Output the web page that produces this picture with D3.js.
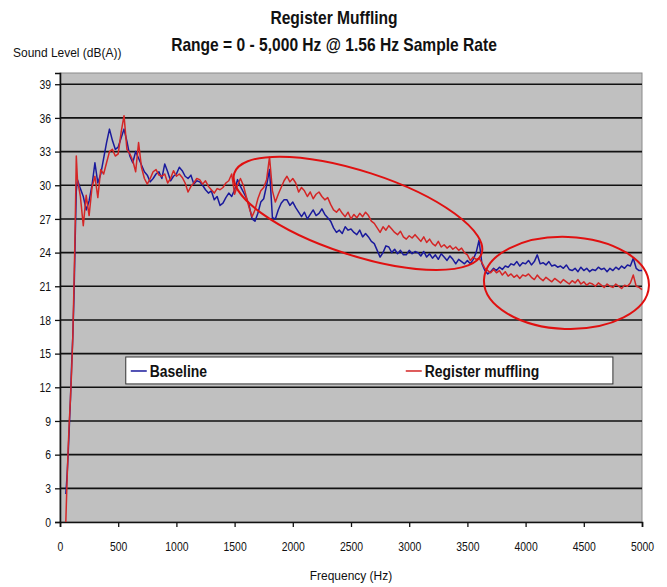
<!DOCTYPE html>
<html>
<head>
<meta charset="utf-8">
<script src="https://cdn.jsdelivr.net/npm/d3@7"></script>
<style>
  body { margin: 0; background: #fff; overflow: hidden; }
  text { font-family: "Liberation Sans", Arial, sans-serif; fill: #111; }
</style>
</head>
<body>
<script>
// sample frequencies (Hz): dense on the ramp, then every 25 Hz
const rampFreqs = [50, 60, 70, 80, 90, 100, 110, 120, 130, 140, 150];
const freqs = rampFreqs.concat(d3.range(175, 5001, 25));

// Sound level, dB(A)
const baseline = [
  2.5, 4, 6, 8.5, 11, 14, 16.5, 20, 25, 29.5, 30.5,
  29.7, 29.0, 27.8, 28.6, 30.0,
  32.0, 30.2, 31.0, 32.4,   33.8, 35.0, 34.0, 33.2,   33.4, 34.2, 35.0, 33.9,
  32.6, 32.0, 33.0, 32.4,   31.8, 31.2, 30.9, 30.3,   30.6, 31.0, 31.2, 30.6,
  31.9, 31.2, 30.4, 30.8,   31.0, 31.6, 31.3, 30.8,   30.6, 30.9, 30.1, 30.4,
  30.3, 30.0, 29.6, 29.3,   29.5, 28.7, 29.0, 28.2,   28.4, 28.9, 29.3, 29.0,
  29.6, 30.5, 29.9, 29.4,   28.9, 28.2, 27.0, 26.8,   27.5, 28.5, 28.8, 30.0,
  31.4, 27.1, 27.0, 27.8,   28.4, 28.7, 28.7, 28.2,   28.5, 28.0, 27.6, 27.2,
  27.6, 27.0, 27.4, 27.8,   27.3, 27.5, 27.9, 27.4,   27.1, 26.8, 26.2, 25.8,
  26.0, 25.7, 26.3, 26.0,   26.1, 25.8, 25.6, 26.0,   25.4, 25.7, 25.4, 25.0,
  24.8, 24.2, 23.6, 24.0,   24.6, 24.5, 24.0, 24.3,   23.9, 24.2, 23.8, 23.8,
  24.2, 23.9, 24.1, 24.0,   23.7, 24.1, 23.6, 23.9,   23.5, 23.8, 23.4, 23.9,
  23.6, 23.3, 23.7, 23.4,   23.0, 23.4, 23.2, 23.0,   23.3, 23.0, 23.4, 24.0,
  25.1, 23.0, 22.4, 22.1,   22.3, 22.6, 22.4, 22.7,   22.5, 22.8, 22.7, 23.0,
  22.9, 23.2, 22.8, 23.1,   23.0, 23.3, 22.9, 23.2,   23.8, 23.0, 23.1, 22.9,
  23.2, 22.8, 22.9, 22.7,   22.8, 22.6, 22.9, 22.5,   22.4, 22.6, 22.3, 22.7,
  22.4, 22.6, 22.3, 22.5,   22.4, 22.7, 22.5, 22.6,   22.3, 22.6, 22.4, 22.7,
  22.5, 22.8, 22.6, 22.9,   22.8, 23.5, 22.6, 22.4,
  22.4
];

const muffled = [
  0, 3.5, 6.5, 9, 11, 13.5, 16.5, 21, 26, 32.6, 30.5,
  29.0, 26.4, 29.1, 27.3, 29.8,
  30.8, 28.9, 31.4, 31.0,   32.0, 33.0, 33.2, 32.6,   32.8, 34.7, 36.2, 33.2,
  32.8, 32.2, 31.2, 33.8,   31.6, 30.6, 30.1, 30.6,   31.2, 31.4, 30.9, 30.8,
  31.0, 30.2, 30.6, 31.3,   30.8, 31.0, 30.7, 30.2,   29.4, 29.9, 30.2, 30.6,
  30.5, 30.1, 30.4, 29.9,   29.6, 29.3, 29.7, 29.6,   29.8, 30.2, 30.4, 31.0,
  29.2, 30.0, 30.6, 30.0,   29.0, 28.0, 27.2, 27.8,   28.8, 29.5, 29.8, 30.5,
  32.5, 29.5, 28.5, 29.2,   29.8, 30.4, 30.8, 30.3,   30.6, 30.2, 29.4, 29.8,
  29.5, 29.0, 29.4, 28.8,   29.2, 29.4, 29.0, 28.7,   28.9, 28.3, 27.8, 27.6,
  27.9, 27.5, 27.2, 27.6,   27.0, 27.4, 27.1, 27.5,   27.2, 27.6, 27.3, 26.8,
  26.6, 26.2, 25.8, 26.3,   26.0, 26.4, 26.1, 25.8,   25.6, 25.9, 25.4, 25.2,
  25.5, 25.3, 25.6, 25.3,   25.0, 25.4, 24.9, 25.2,   24.8, 24.6, 25.0, 24.5,
  24.7, 24.4, 24.6, 24.3,   24.5, 24.2, 24.4, 24.0,   23.8, 23.3, 23.6, 23.4,
  23.5, 23.1, 22.6, 22.4,   22.2, 22.5, 22.2, 22.4,   22.0, 22.3, 21.9, 22.1,
  21.8, 22.0, 21.7, 22.0,   21.9, 22.1, 21.8, 21.6,   22.0, 21.7, 21.5, 21.8,
  21.6, 21.4, 21.7, 21.5,   21.3, 21.6, 21.4, 21.2,   21.5, 21.3, 21.6, 21.2,
  21.4, 21.1, 21.3, 21.2,   21.0, 21.3, 21.1, 20.9,   21.2, 21.0, 20.9, 21.2,
  21.0, 20.8, 21.1, 21.0,   21.3, 22.0, 21.0, 20.9,
  20.7
];

const seriesNames = ["Baseline", "Register muffling"];
const seriesColors = ["#1a1a9c", "#d42626"];

const xTicks = d3.range(0, 5001, 500);
const yTicks = d3.range(0, 40, 3);

// highlighted regions: centre (Hz, dB), half-axes (Hz, dB), tilt in degrees
const highlights = [
  {cx: 2560, cy: 27.5, rx: 1117, ry: 3.74, tilt: 18},
  {cx: 4351, cy: 21.3, rx: 709, ry: 4.1, tilt: 2}
];

const width = 667, height = 587;
const margin = {top: 73, right: 25, bottom: 65, left: 60};
const plotW = width - margin.left - margin.right;
const plotH = height - margin.top - margin.bottom;

// squeeze text horizontally, the original uses a narrow face
function narrow(sel, f) {
    sel.each(function () {
        const w = this.getComputedTextLength();
        d3.select(this)
            .attr("textLength", w * f)
            .attr("lengthAdjust", "spacingAndGlyphs");
    });
}

const svg = d3.select("body").append("svg")
    .attr("width", width)
    .attr("height", height);

const x = d3.scaleLinear().domain([0, 5000]).range([0, plotW]);
const y = d3.scaleLinear().domain([0, 40]).range([plotH, 0]);

const g = svg.append("g")
    .attr("transform", `translate(${margin.left},${margin.top})`);

// plot background
g.append("rect")
    .attr("width", plotW)
    .attr("height", plotH)
    .attr("fill", "#c0c0c0")
    .attr("stroke", "#8a8a8a")
    .attr("stroke-width", 1);

// horizontal gridlines
g.append("g")
    .selectAll("line")
    .data(yTicks.filter(d => d > 0))
    .join("line")
    .attr("x1", 0)
    .attr("x2", plotW)
    .attr("y1", d => y(d))
    .attr("y2", d => y(d))
    .attr("stroke", "#111")
    .attr("stroke-width", 1.6);

// axes
const yAxis = g.append("g")
    .call(d3.axisLeft(y).tickValues(yTicks).tickSize(5).tickPadding(4));
const xAxis = g.append("g")
    .attr("transform", `translate(0,${plotH})`)
    .call(d3.axisBottom(x).tickValues(xTicks).tickSize(5).tickPadding(15).tickFormat(d3.format("d")));

[xAxis, yAxis].forEach(ax => {
    ax.select(".domain").attr("stroke", "#111").attr("stroke-width", 1.6);
    ax.selectAll(".tick line").attr("stroke", "#111").attr("stroke-width", 1.3);
    ax.selectAll(".tick text")
        .attr("fill", "#222")
        .style("font-size", "13px")
        .style("font-family", "'Liberation Sans', Arial, sans-serif")
        .call(narrow, 0.8);
});

// the two series
const line = d3.line()
    .x((d, i) => x(freqs[i]))
    .y(d => y(d));

[baseline, muffled].forEach((vals, k) => {
    g.append("path")
        .datum(vals.slice(0, freqs.length))
        .attr("fill", "none")
        .attr("stroke", seriesColors[k])
        .attr("stroke-width", 1.5)
        .attr("stroke-linejoin", "round")
        .attr("d", line);
});

// red ellipses marking the difference
g.append("g")
    .selectAll("ellipse")
    .data(highlights)
    .join("ellipse")
    .attr("transform", d => `translate(${x(d.cx)},${y(d.cy)}) rotate(${d.tilt})`)
    .attr("rx", d => x(d.rx) - x(0))
    .attr("ry", d => y(0) - y(d.ry))
    .attr("fill", "none")
    .attr("stroke", "#e01010")
    .attr("stroke-width", 2);

// legend box
const legend = g.append("g")
    .attr("transform", `translate(${x(565)},${y(14.7)})`);
legend.append("rect")
    .attr("width", x(4750) - x(565))
    .attr("height", y(0) - y(2.4))
    .attr("fill", "#fff")
    .attr("stroke", "#333")
    .attr("stroke-width", 1);

const legendX = [5, 280];
seriesNames.forEach((name, k) => {
    const item = legend.append("g").attr("transform", `translate(${legendX[k]},14)`);
    item.append("line")
        .attr("x1", 0).attr("x2", 16)
        .attr("stroke", seriesColors[k])
        .attr("stroke-width", 1.5);
    item.append("text")
        .attr("x", 19)
        .attr("dy", "0.35em")
        .style("font-size", "16px")
        .style("font-weight", "bold")
        .text(name)
        .call(narrow, 0.87);
});

// titles
const title = svg.append("g")
    .style("font-size", "19px")
    .style("font-weight", "bold")
    .attr("text-anchor", "middle");
title.append("text")
    .attr("x", 334)
    .attr("y", 24)
    .text("Register Muffling");
title.append("text")
    .attr("x", 334)
    .attr("y", 51)
    .text("Range = 0 - 5,000 Hz @ 1.56 Hz Sample Rate");
title.selectAll("text").call(narrow, 0.82);

svg.append("text")
    .attr("x", 13)
    .attr("y", 57)
    .style("font-size", "13px")
    .text("Sound Level (dB(A))")
    .call(narrow, 0.92);

svg.append("text")
    .attr("x", margin.left + x(2500))
    .attr("y", 580)
    .attr("text-anchor", "middle")
    .style("font-size", "13px")
    .text("Frequency (Hz)")
    .call(narrow, 0.92);
</script>
</body>
</html>
